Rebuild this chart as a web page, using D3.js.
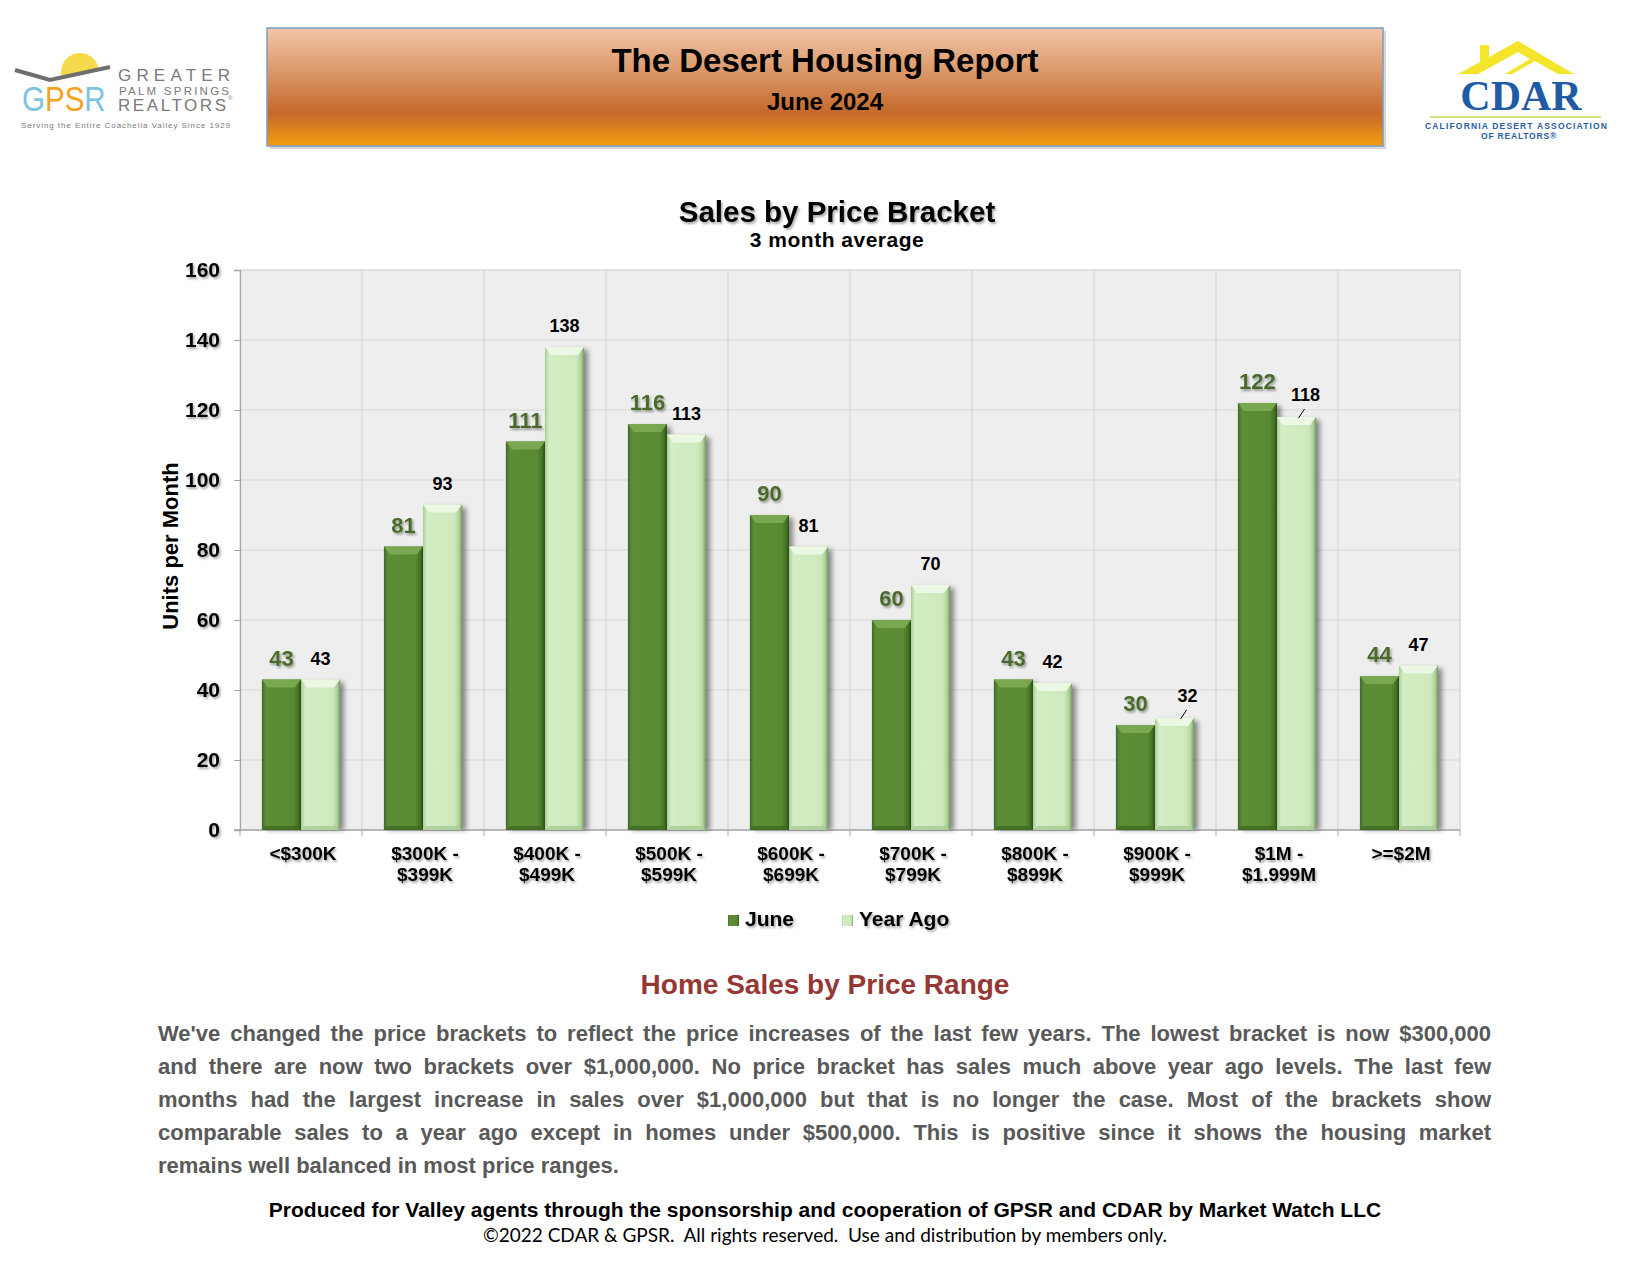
<!DOCTYPE html>
<html>
<head>
<meta charset="utf-8">
<script src="https://cdn.jsdelivr.net/npm/d3@7"></script>
<style>
  body { margin: 0; background: #fff; }
  #page { position: relative; width: 1650px; height: 1275px; overflow: hidden; }
  #page svg { position: absolute; left: 0; top: 0; }
  #para { position: absolute; left: 158px; top: 1017px; width: 1333px;
          font: bold 22px "Liberation Sans", Arial, sans-serif; color: #595959; }
  #para div { height: 33px; line-height: 33px; text-align: justify; text-align-last: justify; }
  #para div.last { text-align-last: left; }
</style>
</head>
<body>
<div id="page"></div>
<script>
// chart data
const categories = [["<$300K"], ["$300K -", "$399K"], ["$400K -", "$499K"], ["$500K -", "$599K"],
  ["$600K -", "$699K"], ["$700K -", "$799K"], ["$800K -", "$899K"], ["$900K -", "$999K"],
  ["$1M -", "$1.999M"], [">=$2M"]];
const june = [43, 81, 111, 116, 90, 60, 43, 30, 122, 44];
const yearAgo = [43, 93, 138, 113, 81, 70, 42, 32, 118, 47];
const seriesNames = ["June", "Year Ago"];
const yTicks = [0, 20, 40, 60, 80, 100, 120, 140, 160];
// year ago labels that were pushed aside (with a leader line)
const yaLabelShift = [0, 0, 0, 0, 0, 0, 0, 13, 9, 0];

const paraLines = [
  "We've changed the price brackets to reflect the price increases of the last few years. The lowest bracket is now $300,000",
  "and there are now two brackets over $1,000,000. No price bracket has sales much above year ago levels. The last few",
  "months had the largest increase in sales over $1,000,000 but that is no longer the case. Most of the brackets show",
  "comparable sales to a year ago except in homes under $500,000. This is positive since it shows the housing market",
  "remains well balanced in most price ranges."
];

const W = 1650, H = 1275;
const font = '"Liberation Sans", Arial, Helvetica, sans-serif';

const svg = d3.select("#page").append("svg")
  .attr("width", W).attr("height", H)
  .style("font-family", font);

const defs = svg.append("defs");

// header gradient
const hg = defs.append("linearGradient").attr("id", "hdr").attr("x1", 0).attr("y1", 0).attr("x2", 0).attr("y2", 1);
[[0, "#f2c6a8"], [0.35, "#dc9a6c"], [0.72, "#c4692b"], [1, "#f59d12"]]
  .forEach(s => hg.append("stop").attr("offset", s[0]).attr("stop-color", s[1]));

// bar gradients
function barGrad(id, stops) {
  const g = defs.append("linearGradient").attr("id", id).attr("x1", 0).attr("y1", 0).attr("x2", 1).attr("y2", 0);
  stops.forEach(s => g.append("stop").attr("offset", s[0]).attr("stop-color", s[1]));
}
barGrad("gJune", [[0, "#40692a"], [0.1, "#5d8e36"], [0.8, "#5a8a33"], [0.92, "#467526"], [1, "#2c4f15"]]);
barGrad("gYA", [[0, "#a9cc95"], [0.1, "#d3edc4"], [0.8, "#cde9bc"], [0.92, "#afd29b"], [1, "#76995f"]]);
const topCol = ["#7dab53", "#eef9e8"];
const botCol = ["#3f6a22", "#a9c995"];
const fills = ["url(#gJune)", "url(#gYA)"];

const shadow = defs.append("filter").attr("id", "barShadow").attr("x", "-20%").attr("y", "-5%").attr("width", "150%").attr("height", "110%");
shadow.append("feGaussianBlur").attr("stdDeviation", 2.5);

const txtShadow = defs.append("filter").attr("id", "txtShadow").attr("x", "-10%").attr("y", "-20%").attr("width", "130%").attr("height", "150%");
txtShadow.append("feDropShadow").attr("dx", 1.5).attr("dy", 2).attr("stdDeviation", 1.2)
  .attr("flood-color", "#000").attr("flood-opacity", 0.35);

// ---------- header ----------
svg.append("rect").attr("x", 270).attr("y", 31).attr("width", 1116).attr("height", 118)
  .attr("fill", "#bbb").attr("opacity", 0.6);
svg.append("rect").attr("x", 267).attr("y", 28).attr("width", 1116).attr("height", 118)
  .attr("fill", "url(#hdr)").attr("stroke", "#7d9cc0").attr("stroke-width", 1.5);
svg.append("text").attr("x", 825).attr("y", 72).attr("text-anchor", "middle")
  .attr("font-size", 33).attr("font-weight", "bold").text("The Desert Housing Report");
svg.append("text").attr("x", 825).attr("y", 110).attr("text-anchor", "middle")
  .attr("font-size", 24).attr("font-weight", "bold").text("June 2024");

// ---------- GPSR logo ----------
const logo1 = svg.append("g");
logo1.append("circle").attr("cx", 80).attr("cy", 72).attr("r", 19).attr("fill", "#f6d84c");
logo1.append("polygon").attr("points", "10,70 50,81 115,67 115,95 10,95").attr("fill", "#fff");
logo1.append("polyline").attr("points", "15,70 50,80 110,67").attr("fill", "none")
  .attr("stroke", "#6e6e6e").attr("stroke-width", 4);
const gpsr = logo1.append("text").attr("transform", "translate(22,111) scale(0.82,1)").attr("font-size", 36);
gpsr.append("tspan").attr("fill", "#7cc4e2").text("G");
gpsr.append("tspan").attr("fill", "#f6a21e").text("PS");
gpsr.append("tspan").attr("fill", "#7cc4e2").text("R");
logo1.append("text").attr("x", 118).attr("y", 81).attr("font-size", 17).attr("fill", "#7a7a7a")
  .attr("textLength", 112).text("GREATER");
logo1.append("text").attr("x", 119).attr("y", 94.5).attr("font-size", 11.5).attr("fill", "#7a7a7a")
  .attr("textLength", 110).text("PALM SPRINGS");
logo1.append("text").attr("x", 118).attr("y", 111).attr("font-size", 17).attr("fill", "#7a7a7a")
  .attr("textLength", 108).text("REALTORS");
logo1.append("text").attr("x", 228).attr("y", 100).attr("font-size", 6).attr("fill", "#7a7a7a").text("®");
logo1.append("text").attr("x", 21).attr("y", 127.5).attr("font-size", 8).attr("fill", "#7a7a7a")
  .attr("textLength", 209).text("Serving the Entire Coachella Valley Since 1929");

// ---------- CDAR logo ----------
const logo2 = svg.append("g");
logo2.append("rect").attr("x", 1480).attr("y", 45).attr("width", 9).attr("height", 18).attr("fill", "#f5e52a");
logo2.append("polygon").attr("points", "1458,74 1518,41 1574,74").attr("fill", "#f5e52a");
logo2.append("polygon").attr("points", "1478,74 1518,52 1530,59 1505,74").attr("fill", "#fff");
logo2.append("polygon").attr("points", "1512,74 1535,61 1558,74").attr("fill", "#fff");
logo2.append("text").attr("x", 1521).attr("y", 110).attr("text-anchor", "middle")
  .attr("font-family", '"Liberation Serif", "DejaVu Serif", serif').attr("font-weight", "bold")
  .attr("font-size", 42).attr("fill", "#1f5aa5").text("CDAR");
logo2.append("line").attr("x1", 1430).attr("x2", 1601).attr("y1", 117).attr("y2", 117)
  .attr("stroke", "#c9d74e").attr("stroke-width", 1.6);
logo2.append("text").attr("x", 1516).attr("y", 129).attr("text-anchor", "middle").attr("font-weight", "bold")
  .attr("font-size", 8.5).attr("fill", "#2a5d9e").attr("textLength", 182).text("CALIFORNIA DESERT ASSOCIATION");
logo2.append("text").attr("x", 1519).attr("y", 139).attr("text-anchor", "middle").attr("font-weight", "bold")
  .attr("font-size", 8.5).attr("fill", "#2a5d9e").attr("letter-spacing", 0.8).text("OF REALTORS®");

// ---------- chart ----------
const plot = { left: 240, right: 1460, top: 270, bottom: 830 };

const x0 = d3.scaleBand().domain(d3.range(categories.length)).range([plot.left, plot.right]).padding(0);
const x1 = d3.scaleBand().domain([0, 1]).range([0, x0.bandwidth()]).paddingInner(0).paddingOuter(0.56);
const y = d3.scaleLinear().domain([0, 160]).range([plot.bottom, plot.top]);

svg.append("text").attr("x", 837).attr("y", 222).attr("text-anchor", "middle")
  .attr("font-size", 29.5).attr("font-weight", "bold").attr("filter", "url(#txtShadow)")
  .text("Sales by Price Bracket");
svg.append("text").attr("x", 837).attr("y", 247).attr("text-anchor", "middle")
  .attr("font-size", 21).attr("font-weight", "bold").attr("letter-spacing", 0.5)
  .text("3 month average");

// background + grid
svg.append("rect").attr("x", plot.left).attr("y", plot.top)
  .attr("width", plot.right - plot.left).attr("height", plot.bottom - plot.top)
  .attr("fill", "#eeeeee").attr("stroke", "#e2e2e2");

svg.append("g").selectAll("line.h").data(yTicks.slice(1)).enter().append("line")
  .attr("x1", plot.left).attr("x2", plot.right)
  .attr("y1", d => y(d)).attr("y2", d => y(d))
  .attr("stroke", "#d6d6d6").attr("stroke-width", 1.2);

svg.append("g").selectAll("line.v").data(d3.range(1, categories.length)).enter().append("line")
  .attr("x1", d => x0(d)).attr("x2", d => x0(d))
  .attr("y1", plot.top).attr("y2", plot.bottom)
  .attr("stroke", "#d6d6d6").attr("stroke-width", 1.2);
svg.append("line").attr("x1", plot.right).attr("x2", plot.right).attr("y1", plot.top).attr("y2", plot.bottom)
  .attr("stroke", "#dcdcdc").attr("stroke-width", 1.5);

// axes
const yAxis = svg.append("g").attr("transform", `translate(${plot.left},0)`)
  .call(d3.axisLeft(y).tickValues(yTicks).tickSize(6).tickPadding(14).tickFormat(d3.format("d")));
yAxis.select(".domain").attr("stroke", "#a6a6a6").attr("stroke-width", 1.3);
yAxis.selectAll(".tick line").attr("stroke", "#a6a6a6");
yAxis.selectAll(".tick text").attr("font-size", 21).attr("font-weight", "bold").attr("fill", "#000")
  .attr("font-family", font).attr("filter", "url(#txtShadow)");

svg.append("text").attr("transform", "translate(178,546) rotate(-90)").attr("text-anchor", "middle")
  .attr("font-size", 22).attr("font-weight", "bold").text("Units per Month");

const bottomG = svg.append("g");
bottomG.append("line").attr("x1", plot.left - 6).attr("x2", plot.right).attr("y1", plot.bottom).attr("y2", plot.bottom)
  .attr("stroke", "#a6a6a6").attr("stroke-width", 1.3);
bottomG.selectAll("line.t").data(d3.range(0, categories.length + 1)).enter().append("line")
  .attr("x1", d => d < categories.length ? x0(d) : plot.right)
  .attr("x2", d => d < categories.length ? x0(d) : plot.right)
  .attr("y1", plot.bottom).attr("y2", plot.bottom + 6)
  .attr("stroke", "#a6a6a6");

const catLabels = svg.append("g").selectAll("text").data(categories).enter().append("text")
  .attr("text-anchor", "middle").attr("font-size", 19).attr("font-weight", "bold")
  .attr("filter", "url(#txtShadow)");
catLabels.each(function (d, i) {
  const t = d3.select(this);
  d.forEach((line, k) => {
    t.append("tspan").attr("x", x0(i) + x0.bandwidth() / 2 + 2).attr("y", 860 + k * 21).text(line);
  });
});

// bars
const seriesData = [june, yearAgo];
const bw = x1.bandwidth();
const barG = svg.append("g");
categories.forEach((c, i) => {
  seriesData.forEach((vals, s) => {
    const v = vals[i];
    const bx = x0(i) + x1(s);
    const by = y(v);
    const bh = y(0) - by;
    const g = barG.append("g");
    g.append("rect").attr("x", bx + 4).attr("y", by + 3).attr("width", bw).attr("height", bh - 3)
      .attr("fill", "#333").attr("opacity", 0.55).attr("filter", "url(#barShadow)");
    g.append("rect").attr("x", bx).attr("y", by).attr("width", bw).attr("height", bh)
      .attr("fill", fills[s]);
    g.append("polygon")
      .attr("points", [[bx, by], [bx + bw, by], [bx + bw - 6, by + 8], [bx + 6, by + 8]].map(p => p.join(",")).join(" "))
      .attr("fill", topCol[s]).attr("opacity", 0.9);
    g.append("polygon")
      .attr("points", [[bx, by + bh], [bx + bw, by + bh], [bx + bw - 4, by + bh - 4], [bx + 4, by + bh - 4]].map(p => p.join(",")).join(" "))
      .attr("fill", botCol[s]).attr("opacity", 0.8);
  });
});

// value labels
svg.append("g").selectAll("text").data(june).enter().append("text")
  .attr("x", (d, i) => x0(i) + x1(0) + bw / 2)
  .attr("y", d => y(d) - 14)
  .attr("text-anchor", "middle").attr("font-size", 22).attr("font-weight", "bold")
  .attr("fill", "#4a6b2b").attr("filter", "url(#txtShadow)")
  .text(d => d);

svg.append("g").selectAll("text").data(yearAgo).enter().append("text")
  .attr("x", (d, i) => x0(i) + x1(1) + bw / 2 + yaLabelShift[i])
  .attr("y", (d, i) => y(d) - (yaLabelShift[i] ? 16 : 15))
  .attr("text-anchor", "middle").attr("font-size", 18).attr("font-weight", "bold")
  .attr("fill", "#000")
  .text(d => d);

svg.append("g").selectAll("line").data(yearAgo.map((d, i) => [d, i]).filter(p => yaLabelShift[p[1]]))
  .enter().append("line")
  .attr("x1", p => x0(p[1]) + x1(1) + bw / 2 + yaLabelShift[p[1]] - 7)
  .attr("y1", p => y(p[0]) + 1)
  .attr("x2", p => x0(p[1]) + x1(1) + bw / 2 + yaLabelShift[p[1]] - 1)
  .attr("y2", p => y(p[0]) - 8)
  .attr("stroke", "#000").attr("stroke-width", 1);

// legend
const legend = svg.append("g").selectAll("g").data(seriesNames).enter().append("g")
  .attr("transform", (d, i) => `translate(${i === 0 ? 728 : 842},915)`);
legend.append("rect").attr("width", 11).attr("height", 11).attr("fill", (d, i) => fills[i]);
legend.append("text").attr("x", 17).attr("y", 11).attr("font-size", 21).attr("font-weight", "bold")
  .attr("filter", "url(#txtShadow)").text(d => d);

// ---------- commentary ----------
svg.append("text").attr("x", 825).attr("y", 994).attr("text-anchor", "middle")
  .attr("font-size", 28).attr("font-weight", "bold").attr("fill", "#953735")
  .text("Home Sales by Price Range");

d3.select("#page").append("div").attr("id", "para")
  .selectAll("div").data(paraLines).enter().append("div")
  .classed("last", (d, i) => i === paraLines.length - 1)
  .text(d => d);

svg.append("text").attr("x", 825).attr("y", 1217).attr("text-anchor", "middle")
  .attr("font-size", 21).attr("font-weight", "bold")
  .text("Produced for Valley agents through the sponsorship and cooperation of GPSR and CDAR by Market Watch LLC");
svg.append("text").attr("x", 825).attr("y", 1242).attr("text-anchor", "middle")
  .attr("font-size", 19).attr("font-family", 'Lato, "Open Sans", sans-serif').attr("xml:space", "preserve")
  .text("©2022 CDAR & GPSR.  All rights reserved.  Use and distribution by members only.");
</script>
</body>
</html>
